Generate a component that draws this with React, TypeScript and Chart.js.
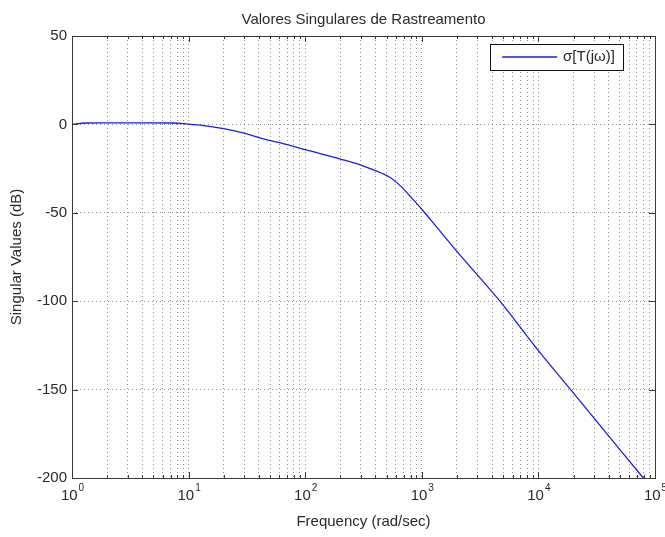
import React, { useEffect, useRef } from 'react';
import { Chart, registerables } from 'chart.js';

Chart.register(...registerables);

// ---- data ----
const freqs = [1, 1.3, 2, 4, 7.5, 10, 13, 20, 30, 43, 70, 100, 200, 300, 380, 535, 650, 790, 1000, 1300, 2000, 4677, 10000, 20000, 50000, 100000];
const sigmaDb = [0, 0.8, 0.9, 0.9, 0.8, 0.1, -0.5, -2.4, -5, -8, -11.5, -14.3, -19.6, -23, -25.6, -30, -34.5, -40.5, -48, -57, -71.8, -100, -128, -152, -184, -208];
const yTicks = [50, 0, -50, -100, -150, -200];
const decades = [0, 1, 2, 3, 4, 5];
const minorMultipliers = [2, 3, 4, 5, 6, 7, 8, 9];
const titleText = 'Valores Singulares de Rastreamento';
const xTitle = 'Frequency (rad/sec)';
const yTitle = 'Singular Values (dB)';
const legendLabel = 'σ[T(jω)]';

const FONT = '"Liberation Sans", Arial, sans-serif';
const FS = 15;
const LINE_COLOR = 'rgb(30,30,220)';
const GRID_COLOR = 'rgba(70,70,70,0.6)';
const BOX_COLOR = '#3a3a3a';
const TEXT_COLOR = '#2a2a2a';

const xGridValues: number[] = [];
decades.forEach((d, i) => {
  xGridValues.push(Math.pow(10, d));
  if (i < decades.length - 1) minorMultipliers.forEach((m) => xGridValues.push(m * Math.pow(10, d)));
});

const decorPlugin = {
  id: 'decor',
  beforeDraw(chart: any) {
    const { ctx, width, height } = chart;
    ctx.save();
    ctx.fillStyle = '#ffffff';
    ctx.fillRect(0, 0, width, height);
    ctx.restore();
  },
  afterDraw(chart: any) {
    const { ctx, chartArea } = chart;
    const { left, right, top, bottom } = chartArea;
    const xs = chart.scales.x;
    const ys = chart.scales.y;
    ctx.save();

    // axes box
    ctx.strokeStyle = BOX_COLOR;
    ctx.lineWidth = 1;
    ctx.strokeRect(Math.round(left) + 0.5, Math.round(top) + 0.5, Math.round(right - left), Math.round(bottom - top));

    // inward ticks
    ctx.beginPath();
    xGridValues.forEach((v) => {
      const px = Math.round(xs.getPixelForValue(v)) + 0.5;
      const major = decades.some((d) => Math.abs(Math.pow(10, d) - v) < 1e-9);
      const len = major ? 6 : 3;
      ctx.moveTo(px, bottom);
      ctx.lineTo(px, bottom - len);
      ctx.moveTo(px, top);
      ctx.lineTo(px, top + len);
    });
    yTicks.forEach((v) => {
      const py = Math.round(ys.getPixelForValue(v)) + 0.5;
      ctx.moveTo(left, py);
      ctx.lineTo(left + 6, py);
      ctx.moveTo(right, py);
      ctx.lineTo(right - 6, py);
    });
    ctx.stroke();

    ctx.fillStyle = TEXT_COLOR;
    // y tick labels
    ctx.font = `${FS}px ${FONT}`;
    ctx.textAlign = 'right';
    ctx.textBaseline = 'middle';
    yTicks.forEach((v) => {
      ctx.fillText(String(v), left - 5, ys.getPixelForValue(v));
    });

    // x tick labels 10^n
    decades.forEach((d) => {
      const px = xs.getPixelForValue(Math.pow(10, d));
      ctx.font = `${FS}px ${FONT}`;
      const wBase = ctx.measureText('10').width;
      ctx.font = `10px ${FONT}`;
      const wExp = ctx.measureText(String(d)).width;
      const start = px - (wBase + wExp) / 2;
      ctx.textAlign = 'left';
      ctx.textBaseline = 'alphabetic';
      ctx.font = `${FS}px ${FONT}`;
      ctx.fillText('10', start, bottom + 22);
      ctx.font = `10px ${FONT}`;
      ctx.fillText(String(d), start + wBase + 1, bottom + 13);
    });

    // title
    ctx.font = `${FS}px ${FONT}`;
    ctx.textAlign = 'center';
    ctx.textBaseline = 'middle';
    ctx.fillText(titleText, (left + right) / 2, 20);

    // x title
    ctx.fillText(xTitle, (left + right) / 2, bottom + 44);

    // y title
    ctx.save();
    ctx.translate(17, (top + bottom) / 2);
    ctx.rotate(-Math.PI / 2);
    ctx.fillText(yTitle, 0, 0);
    ctx.restore();

    // legend
    ctx.font = `${FS}px ${FONT}`;
    const textW = ctx.measureText(legendLabel).width;
    const lineLen = 55;
    const boxW = 12 + lineLen + 6 + textW + 8;
    const boxH = 26;
    const boxRight = xs.getPixelForValue(50000) + 3;
    const boxLeft = boxRight - boxW;
    const boxTop = top + 8;
    ctx.fillStyle = '#ffffff';
    ctx.fillRect(boxLeft, boxTop, boxW, boxH);
    ctx.strokeStyle = '#111';
    ctx.lineWidth = 1;
    ctx.strokeRect(Math.round(boxLeft) + 0.5, Math.round(boxTop) + 0.5, Math.round(boxW), boxH);
    const cy = Math.round(boxTop + boxH / 2);
    ctx.strokeStyle = LINE_COLOR;
    ctx.lineWidth = 1.5;
    ctx.beginPath();
    ctx.moveTo(boxLeft + 12, cy);
    ctx.lineTo(boxLeft + 12 + lineLen, cy);
    ctx.stroke();
    ctx.fillStyle = TEXT_COLOR;
    ctx.textAlign = 'left';
    ctx.textBaseline = 'middle';
    ctx.fillText(legendLabel, boxLeft + 12 + lineLen + 6, cy);

    ctx.restore();
  },
};

export default function App() {
  const canvasRef = useRef<HTMLCanvasElement | null>(null);

  useEffect(() => {
    document.body.style.margin = '0';
    const canvas = canvasRef.current;
    if (!canvas) return;
    const chart = new Chart(canvas, {
      type: 'line',
      data: {
        datasets: [
          {
            label: legendLabel,
            data: freqs.map((f, i) => ({ x: f, y: sigmaDb[i] })),
            borderColor: LINE_COLOR,
            backgroundColor: LINE_COLOR,
            borderWidth: 1.3,
            pointRadius: 0,
            cubicInterpolationMode: 'monotone',
            fill: false,
          },
        ],
      },
      options: {
        responsive: false,
        animation: false,
        devicePixelRatio: 1,
        layout: { padding: { left: 72, right: 10, top: 36, bottom: 59 } },
        plugins: {
          legend: { display: false },
          title: { display: false },
          tooltip: { enabled: false },
        },
        scales: {
          x: {
            type: 'logarithmic',
            min: 1,
            max: 100000,
            afterBuildTicks: (scale: any) => {
              scale.ticks = xGridValues.map((v) => ({ value: v }));
            },
            ticks: { display: false },
            grid: { color: GRID_COLOR, lineWidth: 1, drawTicks: false },
            border: { display: false, dash: [1, 3] },
          },
          y: {
            type: 'linear',
            min: -200,
            max: 50,
            afterBuildTicks: (scale: any) => {
              scale.ticks = yTicks.map((v) => ({ value: v }));
            },
            ticks: { display: false },
            grid: { color: GRID_COLOR, lineWidth: 1, drawTicks: false },
            border: { display: false, dash: [1, 3] },
          },
        },
      },
      plugins: [decorPlugin],
    } as any);
    return () => chart.destroy();
  }, []);

  return <canvas ref={canvasRef} width={665} height={537} style={{ display: 'block' }} />;
}
